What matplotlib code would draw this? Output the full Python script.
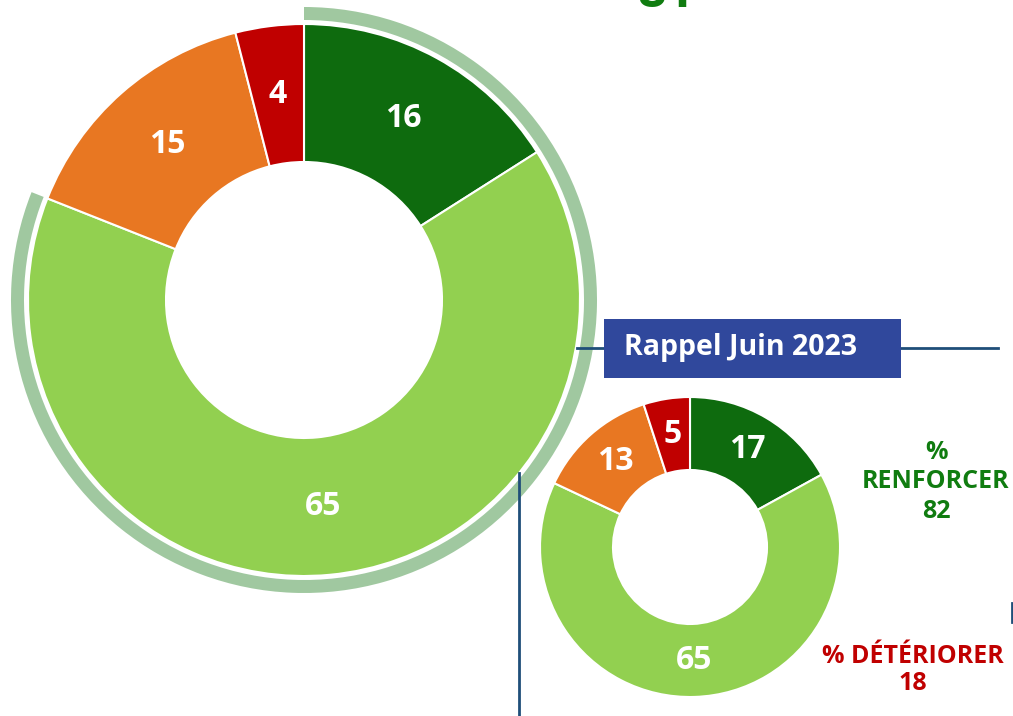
import matplotlib.pyplot as plt
from matplotlib.patches import Wedge, Rectangle

plt.rcParams["font.family"] = ["Open Sans", "DejaVu Sans"]

# data
labels = ["Renforcer fort", "Renforcer", "Détériorer", "Détériorer fort"]
current = [16, 65, 15, 4]
june_2023 = [17, 65, 13, 5]
colors = ["#0e6b0e", "#92d050", "#e87722", "#c00000"]
total_renforcer = 81
prev_renforcer = 82
prev_deteriorer = 18

W, H = 1013, 716


def py(y):
    # image y (top-down) -> axes y
    return H - y


fig = plt.figure(figsize=(W / 100, H / 100), dpi=100)
ax = fig.add_axes([0, 0, 1, 1])

wp = dict(edgecolor="white", linewidth=1.5)
tp = dict(color="white", fontsize=23, fontweight="bold")

# big donut
ax.pie(current, colors=colors, startangle=90, counterclock=False,
       center=(304, py(300)), radius=276, autopct=lambda p: f"{p:.0f}",
       pctdistance=0.75, wedgeprops=dict(width=138, **wp), textprops=tp)

# outer arc for the "renforcer" share
end = 90 - 360 * total_renforcer / 100
ax.add_patch(Wedge((304, py(300)), 293, end % 360, 90, width=13,
                   facecolor="#a0c8a0", edgecolor="none"))

# small donut
ax.pie(june_2023, colors=colors, startangle=90, counterclock=False,
       center=(690, py(547)), radius=150, autopct=lambda p: f"{p:.0f}",
       pctdistance=0.757, wedgeprops=dict(width=73, **wp), textprops=tp)

# connector lines
ax.plot([577, 998], [py(348), py(348)], color="#1f4e79", lw=2, zorder=1)
ax.plot([519, 519], [py(473), py(716)], color="#1f4e79", lw=2, zorder=5)
ax.plot([1012, 1012], [py(603), py(622)], color="#1f4e79", lw=2)

# "Rappel Juin 2023" box
ax.add_patch(Rectangle((604, py(378)), 297, 59, facecolor="#30489c",
                       edgecolor="none", zorder=3))
ax.text(741, py(348), "Rappel Juin 2023", color="white", fontsize=20.5,
        fontweight="bold", ha="center", va="center", zorder=4)

# side annotations
ax.text(936, py(482), f"%\nRENFORCER\n{prev_renforcer}", color="#107c10",
        fontsize=18, fontweight="bold", ha="center", va="center",
        linespacing=1.25)
ax.text(913, py(670), f"% DÉTÉRIORER\n{prev_deteriorer}", color="#c00000",
        fontsize=18, fontweight="bold", ha="center", va="center",
        linespacing=1.15)

# headline number, cut by the top edge
ax.text(666, py(7), str(total_renforcer), color="#107c10", fontsize=36,
        fontweight="bold", ha="center", va="baseline")

ax.set_xlim(0, W)
ax.set_ylim(0, H)
ax.set_aspect("equal")
ax.axis("off")

fig.savefig("out.png", dpi=100)
